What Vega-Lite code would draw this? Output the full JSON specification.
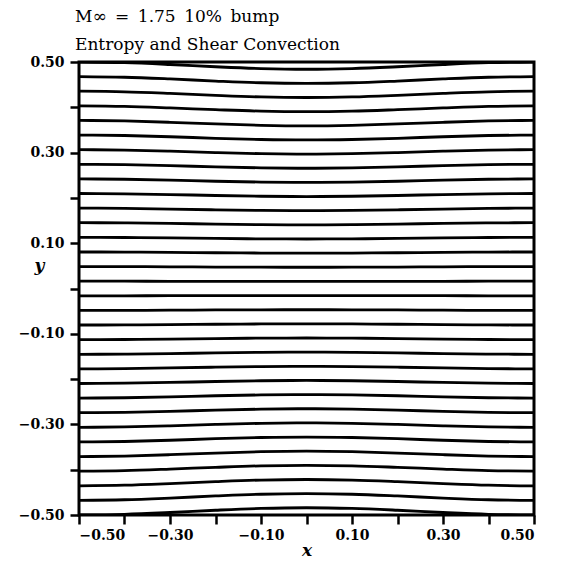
{
  "$schema": "https://vega.github.io/schema/vega-lite/v6.json",
  "width": 455,
  "height": 453,
  "autosize": {"type": "none"},
  "padding": {"left": 79, "top": 62, "right": 28, "bottom": 47},
  "background": "white",
  "title": {
    "text": "M∞\u2002=\u20021.75\u200210%\u2002bump",
    "subtitle": "Entropy and Shear Convection",
    "anchor": "start",
    "frame": "group",
    "dx": -4,
    "offset": 1,
    "font": "DejaVu Serif",
    "fontSize": 17,
    "fontWeight": "normal",
    "color": "black",
    "subtitleFont": "DejaVu Serif",
    "subtitleFontSize": 17,
    "subtitleFontWeight": "normal",
    "subtitleColor": "black",
    "subtitlePadding": 11
  },
  "config": {
    "view": {"stroke": "black", "strokeWidth": 3},
    "axis": {
      "domain": false,
      "grid": false,
      "ticks": true,
      "tickColor": "black",
      "tickWidth": 2.5,
      "tickSize": 9,
      "labelFont": "DejaVu Serif",
      "labelFontSize": 14,
      "labelFontWeight": "bold",
      "labelColor": "black",
      "titleFont": "DejaVu Serif",
      "titleFontSize": 17,
      "titleFontStyle": "italic",
      "titleFontWeight": "bold",
      "titleColor": "black"
    }
  },
  "data": {"values": [
    {"s":31,"x":-0.5,"y":0.5},{"s":31,"x":-0.4,"y":0.4985},{"s":31,"x":-0.3,"y":0.4945},{"s":31,"x":-0.2,"y":0.4895},{"s":31,"x":-0.1,"y":0.4855},{"s":31,"x":0,"y":0.484},{"s":31,"x":0.1,"y":0.4855},{"s":31,"x":0.2,"y":0.4895},{"s":31,"x":0.3,"y":0.4945},{"s":31,"x":0.4,"y":0.4985},{"s":31,"x":0.5,"y":0.5},
    {"s":30,"x":-0.5,"y":0.4677},{"s":30,"x":-0.4,"y":0.4663},{"s":30,"x":-0.3,"y":0.4626},{"s":30,"x":-0.2,"y":0.458},{"s":30,"x":-0.1,"y":0.4542},{"s":30,"x":0,"y":0.4528},{"s":30,"x":0.1,"y":0.4542},{"s":30,"x":0.2,"y":0.458},{"s":30,"x":0.3,"y":0.4626},{"s":30,"x":0.4,"y":0.4663},{"s":30,"x":0.5,"y":0.4677},
    {"s":29,"x":-0.5,"y":0.4355},{"s":29,"x":-0.4,"y":0.4342},{"s":29,"x":-0.3,"y":0.4307},{"s":29,"x":-0.2,"y":0.4264},{"s":29,"x":-0.1,"y":0.4229},{"s":29,"x":0,"y":0.4216},{"s":29,"x":0.1,"y":0.4229},{"s":29,"x":0.2,"y":0.4264},{"s":29,"x":0.3,"y":0.4307},{"s":29,"x":0.4,"y":0.4342},{"s":29,"x":0.5,"y":0.4355},
    {"s":28,"x":-0.5,"y":0.4032},{"s":28,"x":-0.4,"y":0.402},{"s":28,"x":-0.3,"y":0.3987},{"s":28,"x":-0.2,"y":0.3948},{"s":28,"x":-0.1,"y":0.3915},{"s":28,"x":0,"y":0.3903},{"s":28,"x":0.1,"y":0.3915},{"s":28,"x":0.2,"y":0.3948},{"s":28,"x":0.3,"y":0.3987},{"s":28,"x":0.4,"y":0.402},{"s":28,"x":0.5,"y":0.4032},
    {"s":27,"x":-0.5,"y":0.371},{"s":27,"x":-0.4,"y":0.3699},{"s":27,"x":-0.3,"y":0.3669},{"s":27,"x":-0.2,"y":0.3632},{"s":27,"x":-0.1,"y":0.3603},{"s":27,"x":0,"y":0.3591},{"s":27,"x":0.1,"y":0.3603},{"s":27,"x":0.2,"y":0.3632},{"s":27,"x":0.3,"y":0.3669},{"s":27,"x":0.4,"y":0.3699},{"s":27,"x":0.5,"y":0.371},
    {"s":26,"x":-0.5,"y":0.3387},{"s":26,"x":-0.4,"y":0.3377},{"s":26,"x":-0.3,"y":0.335},{"s":26,"x":-0.2,"y":0.3316},{"s":26,"x":-0.1,"y":0.3289},{"s":26,"x":0,"y":0.3279},{"s":26,"x":0.1,"y":0.3289},{"s":26,"x":0.2,"y":0.3316},{"s":26,"x":0.3,"y":0.335},{"s":26,"x":0.4,"y":0.3377},{"s":26,"x":0.5,"y":0.3387},
    {"s":25,"x":-0.5,"y":0.3065},{"s":25,"x":-0.4,"y":0.3056},{"s":25,"x":-0.3,"y":0.3031},{"s":25,"x":-0.2,"y":0.3001},{"s":25,"x":-0.1,"y":0.2976},{"s":25,"x":0,"y":0.2967},{"s":25,"x":0.1,"y":0.2976},{"s":25,"x":0.2,"y":0.3001},{"s":25,"x":0.3,"y":0.3031},{"s":25,"x":0.4,"y":0.3056},{"s":25,"x":0.5,"y":0.3065},
    {"s":24,"x":-0.5,"y":0.2742},{"s":24,"x":-0.4,"y":0.2734},{"s":24,"x":-0.3,"y":0.2712},{"s":24,"x":-0.2,"y":0.2685},{"s":24,"x":-0.1,"y":0.2663},{"s":24,"x":0,"y":0.2654},{"s":24,"x":0.1,"y":0.2663},{"s":24,"x":0.2,"y":0.2685},{"s":24,"x":0.3,"y":0.2712},{"s":24,"x":0.4,"y":0.2734},{"s":24,"x":0.5,"y":0.2742},
    {"s":23,"x":-0.5,"y":0.2419},{"s":23,"x":-0.4,"y":0.2412},{"s":23,"x":-0.3,"y":0.2392},{"s":23,"x":-0.2,"y":0.2368},{"s":23,"x":-0.1,"y":0.2349},{"s":23,"x":0,"y":0.2342},{"s":23,"x":0.1,"y":0.2349},{"s":23,"x":0.2,"y":0.2368},{"s":23,"x":0.3,"y":0.2392},{"s":23,"x":0.4,"y":0.2412},{"s":23,"x":0.5,"y":0.2419},
    {"s":22,"x":-0.5,"y":0.2097},{"s":22,"x":-0.4,"y":0.2091},{"s":22,"x":-0.3,"y":0.2074},{"s":22,"x":-0.2,"y":0.2053},{"s":22,"x":-0.1,"y":0.2036},{"s":22,"x":0,"y":0.203},{"s":22,"x":0.1,"y":0.2036},{"s":22,"x":0.2,"y":0.2053},{"s":22,"x":0.3,"y":0.2074},{"s":22,"x":0.4,"y":0.2091},{"s":22,"x":0.5,"y":0.2097},
    {"s":21,"x":-0.5,"y":0.1774},{"s":21,"x":-0.4,"y":0.1769},{"s":21,"x":-0.3,"y":0.1754},{"s":21,"x":-0.2,"y":0.1737},{"s":21,"x":-0.1,"y":0.1723},{"s":21,"x":0,"y":0.1717},{"s":21,"x":0.1,"y":0.1723},{"s":21,"x":0.2,"y":0.1737},{"s":21,"x":0.3,"y":0.1754},{"s":21,"x":0.4,"y":0.1769},{"s":21,"x":0.5,"y":0.1774},
    {"s":20,"x":-0.5,"y":0.1452},{"s":20,"x":-0.4,"y":0.1448},{"s":20,"x":-0.3,"y":0.1436},{"s":20,"x":-0.2,"y":0.1422},{"s":20,"x":-0.1,"y":0.141},{"s":20,"x":0,"y":0.1406},{"s":20,"x":0.1,"y":0.141},{"s":20,"x":0.2,"y":0.1422},{"s":20,"x":0.3,"y":0.1436},{"s":20,"x":0.4,"y":0.1448},{"s":20,"x":0.5,"y":0.1452},
    {"s":19,"x":-0.5,"y":0.1129},{"s":19,"x":-0.4,"y":0.1126},{"s":19,"x":-0.3,"y":0.1117},{"s":19,"x":-0.2,"y":0.1105},{"s":19,"x":-0.1,"y":0.1096},{"s":19,"x":0,"y":0.1093},{"s":19,"x":0.1,"y":0.1096},{"s":19,"x":0.2,"y":0.1105},{"s":19,"x":0.3,"y":0.1117},{"s":19,"x":0.4,"y":0.1126},{"s":19,"x":0.5,"y":0.1129},
    {"s":18,"x":-0.5,"y":0.0806},{"s":18,"x":-0.4,"y":0.0804},{"s":18,"x":-0.3,"y":0.0797},{"s":18,"x":-0.2,"y":0.0789},{"s":18,"x":-0.1,"y":0.0783},{"s":18,"x":0,"y":0.078},{"s":18,"x":0.1,"y":0.0783},{"s":18,"x":0.2,"y":0.0789},{"s":18,"x":0.3,"y":0.0797},{"s":18,"x":0.4,"y":0.0804},{"s":18,"x":0.5,"y":0.0806},
    {"s":17,"x":-0.5,"y":0.0484},{"s":17,"x":-0.4,"y":0.0483},{"s":17,"x":-0.3,"y":0.0479},{"s":17,"x":-0.2,"y":0.0474},{"s":17,"x":-0.1,"y":0.047},{"s":17,"x":0,"y":0.0469},{"s":17,"x":0.1,"y":0.047},{"s":17,"x":0.2,"y":0.0474},{"s":17,"x":0.3,"y":0.0479},{"s":17,"x":0.4,"y":0.0483},{"s":17,"x":0.5,"y":0.0484},
    {"s":16,"x":-0.5,"y":0.0161},{"s":16,"x":-0.4,"y":0.0161},{"s":16,"x":-0.3,"y":0.0159},{"s":16,"x":-0.2,"y":0.0158},{"s":16,"x":-0.1,"y":0.0156},{"s":16,"x":0,"y":0.0156},{"s":16,"x":0.1,"y":0.0156},{"s":16,"x":0.2,"y":0.0158},{"s":16,"x":0.3,"y":0.0159},{"s":16,"x":0.4,"y":0.0161},{"s":16,"x":0.5,"y":0.0161},
    {"s":15,"x":-0.5,"y":-0.0161},{"s":15,"x":-0.4,"y":-0.0161},{"s":15,"x":-0.3,"y":-0.0159},{"s":15,"x":-0.2,"y":-0.0158},{"s":15,"x":-0.1,"y":-0.0156},{"s":15,"x":0,"y":-0.0156},{"s":15,"x":0.1,"y":-0.0156},{"s":15,"x":0.2,"y":-0.0158},{"s":15,"x":0.3,"y":-0.0159},{"s":15,"x":0.4,"y":-0.0161},{"s":15,"x":0.5,"y":-0.0161},
    {"s":14,"x":-0.5,"y":-0.0484},{"s":14,"x":-0.4,"y":-0.0483},{"s":14,"x":-0.3,"y":-0.0479},{"s":14,"x":-0.2,"y":-0.0474},{"s":14,"x":-0.1,"y":-0.047},{"s":14,"x":0,"y":-0.0469},{"s":14,"x":0.1,"y":-0.047},{"s":14,"x":0.2,"y":-0.0474},{"s":14,"x":0.3,"y":-0.0479},{"s":14,"x":0.4,"y":-0.0483},{"s":14,"x":0.5,"y":-0.0484},
    {"s":13,"x":-0.5,"y":-0.0806},{"s":13,"x":-0.4,"y":-0.0804},{"s":13,"x":-0.3,"y":-0.0797},{"s":13,"x":-0.2,"y":-0.0789},{"s":13,"x":-0.1,"y":-0.0783},{"s":13,"x":0,"y":-0.078},{"s":13,"x":0.1,"y":-0.0783},{"s":13,"x":0.2,"y":-0.0789},{"s":13,"x":0.3,"y":-0.0797},{"s":13,"x":0.4,"y":-0.0804},{"s":13,"x":0.5,"y":-0.0806},
    {"s":12,"x":-0.5,"y":-0.1129},{"s":12,"x":-0.4,"y":-0.1126},{"s":12,"x":-0.3,"y":-0.1117},{"s":12,"x":-0.2,"y":-0.1105},{"s":12,"x":-0.1,"y":-0.1096},{"s":12,"x":0,"y":-0.1093},{"s":12,"x":0.1,"y":-0.1096},{"s":12,"x":0.2,"y":-0.1105},{"s":12,"x":0.3,"y":-0.1117},{"s":12,"x":0.4,"y":-0.1126},{"s":12,"x":0.5,"y":-0.1129},
    {"s":11,"x":-0.5,"y":-0.1452},{"s":11,"x":-0.4,"y":-0.1448},{"s":11,"x":-0.3,"y":-0.1436},{"s":11,"x":-0.2,"y":-0.1422},{"s":11,"x":-0.1,"y":-0.141},{"s":11,"x":0,"y":-0.1406},{"s":11,"x":0.1,"y":-0.141},{"s":11,"x":0.2,"y":-0.1422},{"s":11,"x":0.3,"y":-0.1436},{"s":11,"x":0.4,"y":-0.1448},{"s":11,"x":0.5,"y":-0.1452},
    {"s":10,"x":-0.5,"y":-0.1774},{"s":10,"x":-0.4,"y":-0.1769},{"s":10,"x":-0.3,"y":-0.1754},{"s":10,"x":-0.2,"y":-0.1737},{"s":10,"x":-0.1,"y":-0.1723},{"s":10,"x":0,"y":-0.1717},{"s":10,"x":0.1,"y":-0.1723},{"s":10,"x":0.2,"y":-0.1737},{"s":10,"x":0.3,"y":-0.1754},{"s":10,"x":0.4,"y":-0.1769},{"s":10,"x":0.5,"y":-0.1774},
    {"s":9,"x":-0.5,"y":-0.2097},{"s":9,"x":-0.4,"y":-0.2091},{"s":9,"x":-0.3,"y":-0.2074},{"s":9,"x":-0.2,"y":-0.2053},{"s":9,"x":-0.1,"y":-0.2036},{"s":9,"x":0,"y":-0.203},{"s":9,"x":0.1,"y":-0.2036},{"s":9,"x":0.2,"y":-0.2053},{"s":9,"x":0.3,"y":-0.2074},{"s":9,"x":0.4,"y":-0.2091},{"s":9,"x":0.5,"y":-0.2097},
    {"s":8,"x":-0.5,"y":-0.2419},{"s":8,"x":-0.4,"y":-0.2412},{"s":8,"x":-0.3,"y":-0.2392},{"s":8,"x":-0.2,"y":-0.2368},{"s":8,"x":-0.1,"y":-0.2349},{"s":8,"x":0,"y":-0.2342},{"s":8,"x":0.1,"y":-0.2349},{"s":8,"x":0.2,"y":-0.2368},{"s":8,"x":0.3,"y":-0.2392},{"s":8,"x":0.4,"y":-0.2412},{"s":8,"x":0.5,"y":-0.2419},
    {"s":7,"x":-0.5,"y":-0.2742},{"s":7,"x":-0.4,"y":-0.2734},{"s":7,"x":-0.3,"y":-0.2712},{"s":7,"x":-0.2,"y":-0.2685},{"s":7,"x":-0.1,"y":-0.2663},{"s":7,"x":0,"y":-0.2654},{"s":7,"x":0.1,"y":-0.2663},{"s":7,"x":0.2,"y":-0.2685},{"s":7,"x":0.3,"y":-0.2712},{"s":7,"x":0.4,"y":-0.2734},{"s":7,"x":0.5,"y":-0.2742},
    {"s":6,"x":-0.5,"y":-0.3065},{"s":6,"x":-0.4,"y":-0.3056},{"s":6,"x":-0.3,"y":-0.3031},{"s":6,"x":-0.2,"y":-0.3001},{"s":6,"x":-0.1,"y":-0.2976},{"s":6,"x":0,"y":-0.2967},{"s":6,"x":0.1,"y":-0.2976},{"s":6,"x":0.2,"y":-0.3001},{"s":6,"x":0.3,"y":-0.3031},{"s":6,"x":0.4,"y":-0.3056},{"s":6,"x":0.5,"y":-0.3065},
    {"s":5,"x":-0.5,"y":-0.3387},{"s":5,"x":-0.4,"y":-0.3377},{"s":5,"x":-0.3,"y":-0.335},{"s":5,"x":-0.2,"y":-0.3316},{"s":5,"x":-0.1,"y":-0.3289},{"s":5,"x":0,"y":-0.3279},{"s":5,"x":0.1,"y":-0.3289},{"s":5,"x":0.2,"y":-0.3316},{"s":5,"x":0.3,"y":-0.335},{"s":5,"x":0.4,"y":-0.3377},{"s":5,"x":0.5,"y":-0.3387},
    {"s":4,"x":-0.5,"y":-0.371},{"s":4,"x":-0.4,"y":-0.3699},{"s":4,"x":-0.3,"y":-0.3669},{"s":4,"x":-0.2,"y":-0.3632},{"s":4,"x":-0.1,"y":-0.3603},{"s":4,"x":0,"y":-0.3591},{"s":4,"x":0.1,"y":-0.3603},{"s":4,"x":0.2,"y":-0.3632},{"s":4,"x":0.3,"y":-0.3669},{"s":4,"x":0.4,"y":-0.3699},{"s":4,"x":0.5,"y":-0.371},
    {"s":3,"x":-0.5,"y":-0.4032},{"s":3,"x":-0.4,"y":-0.402},{"s":3,"x":-0.3,"y":-0.3987},{"s":3,"x":-0.2,"y":-0.3948},{"s":3,"x":-0.1,"y":-0.3915},{"s":3,"x":0,"y":-0.3903},{"s":3,"x":0.1,"y":-0.3915},{"s":3,"x":0.2,"y":-0.3948},{"s":3,"x":0.3,"y":-0.3987},{"s":3,"x":0.4,"y":-0.402},{"s":3,"x":0.5,"y":-0.4032},
    {"s":2,"x":-0.5,"y":-0.4355},{"s":2,"x":-0.4,"y":-0.4342},{"s":2,"x":-0.3,"y":-0.4307},{"s":2,"x":-0.2,"y":-0.4264},{"s":2,"x":-0.1,"y":-0.4229},{"s":2,"x":0,"y":-0.4216},{"s":2,"x":0.1,"y":-0.4229},{"s":2,"x":0.2,"y":-0.4264},{"s":2,"x":0.3,"y":-0.4307},{"s":2,"x":0.4,"y":-0.4342},{"s":2,"x":0.5,"y":-0.4355},
    {"s":1,"x":-0.5,"y":-0.4677},{"s":1,"x":-0.4,"y":-0.4663},{"s":1,"x":-0.3,"y":-0.4626},{"s":1,"x":-0.2,"y":-0.458},{"s":1,"x":-0.1,"y":-0.4542},{"s":1,"x":0,"y":-0.4528},{"s":1,"x":0.1,"y":-0.4542},{"s":1,"x":0.2,"y":-0.458},{"s":1,"x":0.3,"y":-0.4626},{"s":1,"x":0.4,"y":-0.4663},{"s":1,"x":0.5,"y":-0.4677},
    {"s":0,"x":-0.5,"y":-0.5},{"s":0,"x":-0.4,"y":-0.4985},{"s":0,"x":-0.3,"y":-0.4945},{"s":0,"x":-0.2,"y":-0.4895},{"s":0,"x":-0.1,"y":-0.4855},{"s":0,"x":0,"y":-0.484},{"s":0,"x":0.1,"y":-0.4855},{"s":0,"x":0.2,"y":-0.4895},{"s":0,"x":0.3,"y":-0.4945},{"s":0,"x":0.4,"y":-0.4985},{"s":0,"x":0.5,"y":-0.5}
  ]},
  "mark": {"type": "line", "color": "black", "strokeWidth": 2.8, "interpolate": "monotone", "clip": true},
  "encoding": {
    "x": {
      "field": "x", "type": "quantitative",
      "scale": {"domain": [-0.5, 0.5], "nice": false, "zero": false},
      "axis": {
        "values": [-0.5, -0.4, -0.3, -0.2, -0.1, 0, 0.1, 0.2, 0.3, 0.4, 0.5],
        "labelExpr": "abs(round(datum.value * 10)) % 2 == 1 ? format(datum.value, '.2f') : ''",
        "labelPadding": 4,
        "title": "x",
        "titlePadding": 0
      }
    },
    "y": {
      "field": "y", "type": "quantitative",
      "scale": {"domain": [-0.5, 0.5], "nice": false, "zero": false},
      "axis": {
        "values": [-0.5, -0.4, -0.3, -0.2, -0.1, 0, 0.1, 0.2, 0.3, 0.4, 0.5],
        "labelExpr": "abs(round(datum.value * 10)) % 2 == 1 ? format(datum.value, '.2f') : ''",
        "labelPadding": 6,
        "title": "y",
        "titleAngle": 0,
        "titleX": -40,
        "titleY": 203,
        "titleAlign": "center",
        "titleBaseline": "middle"
      }
    },
    "detail": {"field": "s", "type": "nominal"}
  }
}
